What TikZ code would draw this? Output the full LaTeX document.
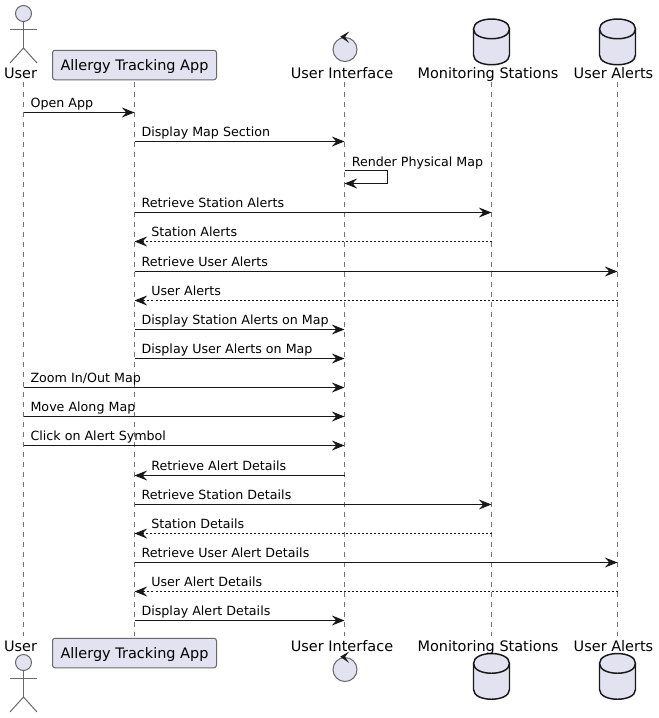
\documentclass[tikz,border=0pt]{standalone}
\usepackage{fontspec}
\setmainfont{DejaVu Sans}
\usetikzlibrary{arrows.meta}
\definecolor{partfill}{HTML}{E2E2F0}
\definecolor{partline}{HTML}{181818}
\tikzset{%
  lifeline/.style={draw=partline!60, line width=0.75pt, dash pattern=on 3.75pt off 3.75pt},% dashed life line
  participant/.style={draw=partline!65, fill=partfill, rounded corners=1.9pt, line width=0.75pt,
    minimum width=164*0.75pt, minimum height=29.5*0.75pt, inner sep=0pt, text height=7.5pt, text depth=0pt,
    font=\fontsize{10.85pt}{12pt}\selectfont},
  caption/.style={anchor=base, inner sep=0pt, font=\fontsize{10.85pt}{12pt}\selectfont},% name at the life line
  symbol/.style={draw=partline!65, fill=partfill, line width=0.75pt},
  dbsymbol/.style={draw=partline, fill=partfill, line width=1.1pt},
  message/.style={draw=partline, line width=0.75pt, -{Stealth[length=9.5pt, width=7.5pt, inset=3.4pt]}},
  reply/.style={message, dash pattern=on 1.5pt off 1.5pt},
  msgtext/.style={anchor=base west, inner sep=0pt, text=black, font=\fontsize{9.5pt}{12pt}\selectfont}
}
% stick figure, head centre at #1,#2
\newcommand*{\actorman}[2]{
  \begin{scope}[shift={(#1,#2)}]
    \draw[symbol] (0,8) -- (0,34.5);
    \draw[symbol] (-13.5,15.5) -- (13.5,15.5);
    \draw[symbol, fill=none] (-13.5,49.5) -- (0,34.5) -- (13.5,49.5);
    \filldraw[symbol] (0,0) circle (8);
  \end{scope}}
% circle with the arrow on top, centre at #1,#2
\newcommand*{\controlsym}[2]{
  \begin{scope}[shift={(#1,#2)}]
    \filldraw[symbol] (0,0) circle (12);
    \fill[partline] (-4.8,-12.8) -- (4.2,-18) -- (0,-12.5) -- (4.2,-6.5) -- cycle;
  \end{scope}}
% database drum, top at #1,#2
\newcommand*{\drum}[2]{
  \begin{scope}[shift={(#1,#2)}]
    \filldraw[dbsymbol] (-18,10) .. controls (-18,-3.3) and (18,-3.3) .. (18,10) -- (18,36)
      .. controls (18,49) and (-18,49) .. (-18,36) -- cycle;
    \draw[dbsymbol, fill=none] (-18,10) .. controls (-18,23) and (18,23) .. (18,10);
  \end{scope}}
% message to the right: from, to, y, text
\newcommand*{\sendmsg}[4]{
  \draw[message] (#1 |- 0,#3) -- (#2 |- 0,#3);
  \node[msgtext] at ([xshift=5.1pt,yshift=3.55pt]#1 |- 0,#3) {#4};}
% message to the left: from, to, y, text
\newcommand*{\backmsg}[5][message]{
  \draw[#1] (#2 |- 0,#4) -- (#3 |- 0,#4);
  \node[msgtext] at ([xshift=12.4pt,yshift=3.55pt]#3 |- 0,#4) {#5};}
\begin{document}
\begin{tikzpicture}[x=0.75pt, y=-0.75pt]
\useasboundingbox (0,0) rectangle (659,718);
\coordinate (user) at (23.5,82);
\coordinate (app) at (134.5,82);
\coordinate (ui) at (344.5,82);
\coordinate (stations) at (491.5,82);
\coordinate (alerts) at (617.5,82);
\coordinate (userend) at (23.5,636);
\coordinate (append) at (134.5,636);
\coordinate (uiend) at (344.5,636);
\coordinate (stationsend) at (491.5,636);
\coordinate (alertsend) at (617.5,636);

\draw[lifeline] (user) -- (userend);
\draw[lifeline] (app) -- (append);
\draw[lifeline] (ui) -- (uiend);
\draw[lifeline] (stations) -- (stationsend);
\draw[lifeline] (alerts) -- (alertsend);

%%%% top row
\actorman{23.5}{13.5}
\controlsym{345}{49.5}
\drum{491.5}{19}
\drum{617.5}{19}
\node[participant] (apptop) at (134.5,65) {Allergy Tracking App};
\node[caption] (usertop) at (20.5,78) {User};
\node[caption] (uitop) at (342,78) {User Interface};
\node[caption] (stationstop) at (488,78) {Monitoring Stations};
\node[caption] (alertstop) at (613.5,78) {User Alerts};

%%%% bottom row
\actorman{23.5}{662.5}
\controlsym{345}{669.5}
\drum{491.5}{653.5}
\drum{617.5}{653.5}
\node[participant] (appbottom) at (134.5,653) {Allergy Tracking App};
\node[caption] (userbottom) at (20.5,651) {User};
\node[caption] (uibottom) at (342,651) {User Interface};
\node[caption] (stationsbottom) at (488,651) {Monitoring Stations};
\node[caption] (alertsbottom) at (613.5,651) {User Alerts};

%%%% messages
\sendmsg{user}{app}{112.5}{Open App}
\sendmsg{app}{ui}{141.5}{Display Map Section}
\draw[message] (ui |- 0,170.5) -| (387.5,183.5) -- (ui |- 0,183.5);
\node[msgtext] (rendertext) at (351.5,166) {Render Physical Map};
\sendmsg{app}{stations}{212.5}{Retrieve Station Alerts}
\backmsg[reply]{stations}{app}{241.5}{Station Alerts}
\sendmsg{app}{alerts}{271.5}{Retrieve User Alerts}
\backmsg[reply]{alerts}{app}{300.5}{User Alerts}
\sendmsg{app}{ui}{329.5}{Display Station Alerts on Map}
\sendmsg{app}{ui}{358.5}{Display User Alerts on Map}
\sendmsg{user}{ui}{387.5}{Zoom In/Out Map}
\sendmsg{user}{ui}{416.5}{Move Along Map}
\sendmsg{user}{ui}{445.5}{Click on Alert Symbol}
\backmsg{ui}{app}{475.5}{Retrieve Alert Details}
\sendmsg{app}{stations}{504.5}{Retrieve Station Details}
\backmsg[reply]{stations}{app}{533.5}{Station Details}
\sendmsg{app}{alerts}{562.5}{Retrieve User Alert Details}
\backmsg[reply]{alerts}{app}{591.5}{User Alert Details}
\sendmsg{app}{ui}{620.5}{Display Alert Details}
\end{tikzpicture}
\end{document}
